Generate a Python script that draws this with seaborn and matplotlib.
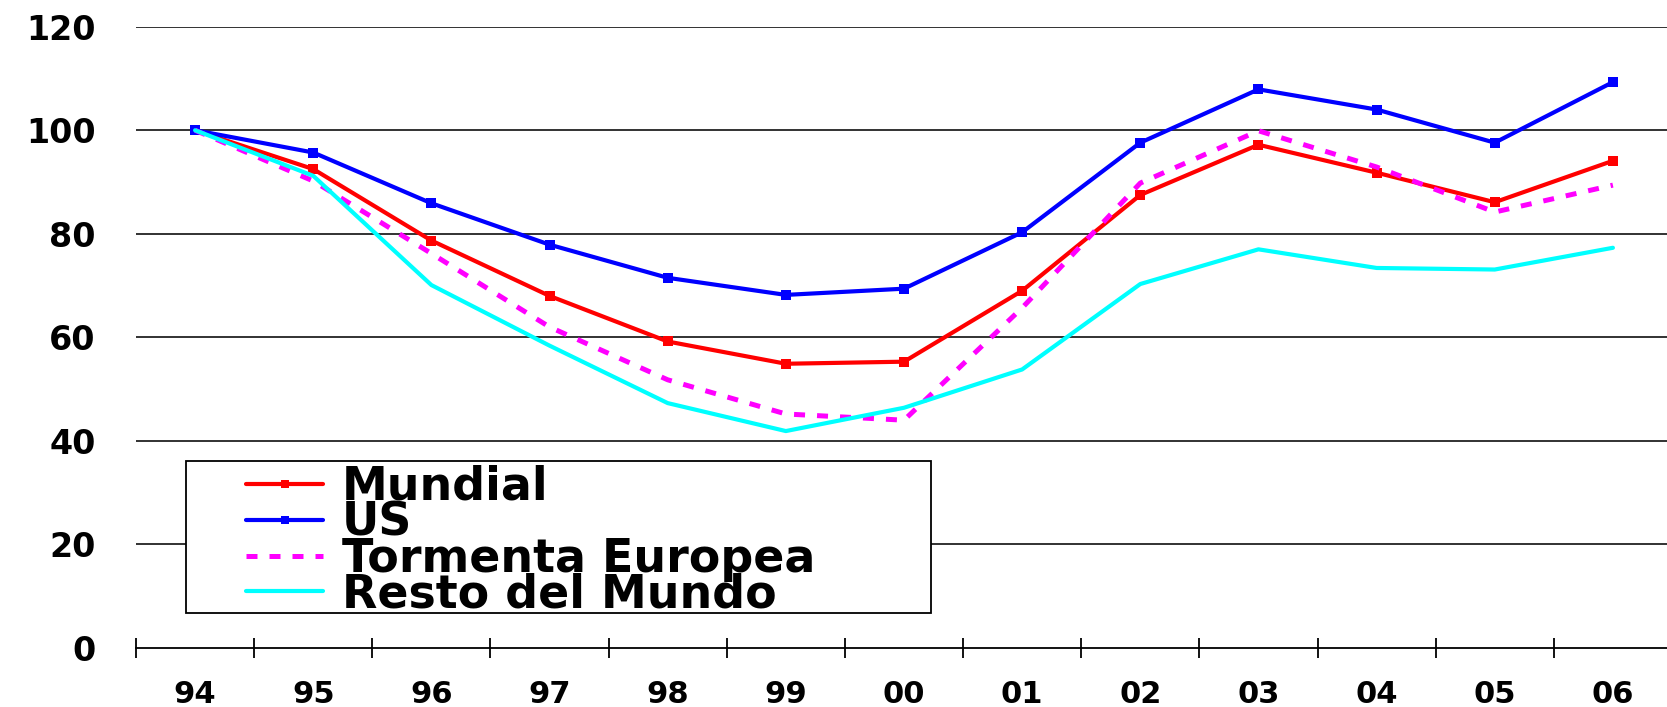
import matplotlib
matplotlib.use("Agg")
import matplotlib.pyplot as plt
from matplotlib.patches import Rectangle
import seaborn as sns
import pandas as pd

years = ["94", "95", "96", "97", "98", "99", "00", "01", "02", "03", "04", "05", "06"]
mundial = [100, 92.5, 78.7, 68.0, 59.2, 54.9, 55.3, 69.0, 87.5, 97.2, 91.8, 86.1, 94.1]
us = [100, 95.7, 85.9, 77.9, 71.5, 68.2, 69.4, 80.3, 97.6, 107.9, 104.0, 97.6, 109.3]
tormenta = [100, 90.2, 76.2, 62.0, 51.8, 45.2, 44.0, 65.7, 89.8, 99.9, 92.9, 84.2, 89.4]
resto = [100, 91.2, 70.1, 58.4, 47.3, 41.9, 46.4, 53.8, 70.3, 77.0, 73.4, 73.1, 77.3]
yticks = [0, 20, 40, 60, 80, 100, 120]

series = {
    "Mundial": mundial,
    "US": us,
    "Tormenta Europea": tormenta,
    "Resto del Mundo": resto,
}

styles = {
    "Mundial": dict(color="#ff0000", lw=3.0, marker="s", ms=7, dashes=None),
    "US": dict(color="#0000ff", lw=3.0, marker="s", ms=7, dashes=None),
    "Tormenta Europea": dict(color="#ff00ff", lw=3.6, marker=None, ms=0, dashes=(2.2, 2.4)),
    "Resto del Mundo": dict(color="#00ffff", lw=3.0, marker=None, ms=0, dashes=None),
}

sns.set_theme(style="white")
plt.rcParams["font.family"] = ["DejaVu Sans"]
plt.rcParams["font.weight"] = "bold"
plt.rcParams["text.color"] = "black"
plt.rcParams["xtick.color"] = "black"
plt.rcParams["ytick.color"] = "black"

W, H = 1667, 707
fig = plt.figure(figsize=(W / 100, H / 100), dpi=100)
ax = fig.add_axes([136 / W, 1 - 648 / H, (1672 - 136) / W, (648 - 26.7) / H])

pos = list(range(len(years)))
handles = []
for name, vals in series.items():
    st = styles[name]
    df = pd.DataFrame({"x": pos, "y": vals})
    sns.lineplot(data=df, x="x", y="y", ax=ax, color=st["color"], linewidth=st["lw"],
                 marker=st["marker"], markersize=st["ms"], markeredgewidth=0,
                 label=name, legend=False, zorder=3)
    line = ax.lines[-1]
    if st["dashes"] is not None:
        line.set_dashes(st["dashes"])
    handles.append(line)

ax.set_xlim(-0.5, len(years) - 0.5)
ax.set_ylim(0, 120)
ax.set_yticks(yticks)
ax.set_yticklabels([str(v) for v in yticks], fontsize=24, fontweight="bold")
for v in yticks[1:]:
    ax.axhline(v, color="#222222", lw=1.3, zorder=0)

ax.set_xticks(pos)
ax.set_xticklabels(years, fontsize=22, fontweight="bold")
ax.set_xticks([p - 0.5 for p in pos] + [len(years) - 0.5], minor=True)
ax.tick_params(axis="x", which="major", length=0, pad=23, bottom=True)
ax.tick_params(axis="x", which="minor", direction="inout", length=13.7, width=1.3,
               color="black", bottom=True)
ax.tick_params(axis="y", length=0, pad=29)
ax.set_xlabel("")
ax.set_ylabel("")

for s in ["top", "right", "left"]:
    ax.spines[s].set_visible(False)
ax.spines["bottom"].set_color("black")
ax.spines["bottom"].set_linewidth(1.3)

# legend frame drawn as a white box over the grid
box = Rectangle((186 / W, 1 - 613 / H), (931 - 186) / W, (613 - 461) / H,
                transform=fig.transFigure, facecolor="white", edgecolor="black",
                linewidth=1.3, zorder=4)
ax.add_patch(box)

leg = ax.legend(handles=handles, labels=list(series.keys()),
                loc="upper left", bbox_to_anchor=(246 / W, 1 - 465 / H),
                bbox_transform=fig.transFigure, borderaxespad=0, borderpad=0,
                prop={"family": "DejaVu Sans", "weight": "bold", "size": 33},
                handlelength=1.68, handletextpad=0.42, labelspacing=-0.2,
                frameon=False)
leg.set_zorder(5)
for h in leg.legend_handles:
    h.set_markersize(6)

fig.savefig("out.png", dpi=100)
